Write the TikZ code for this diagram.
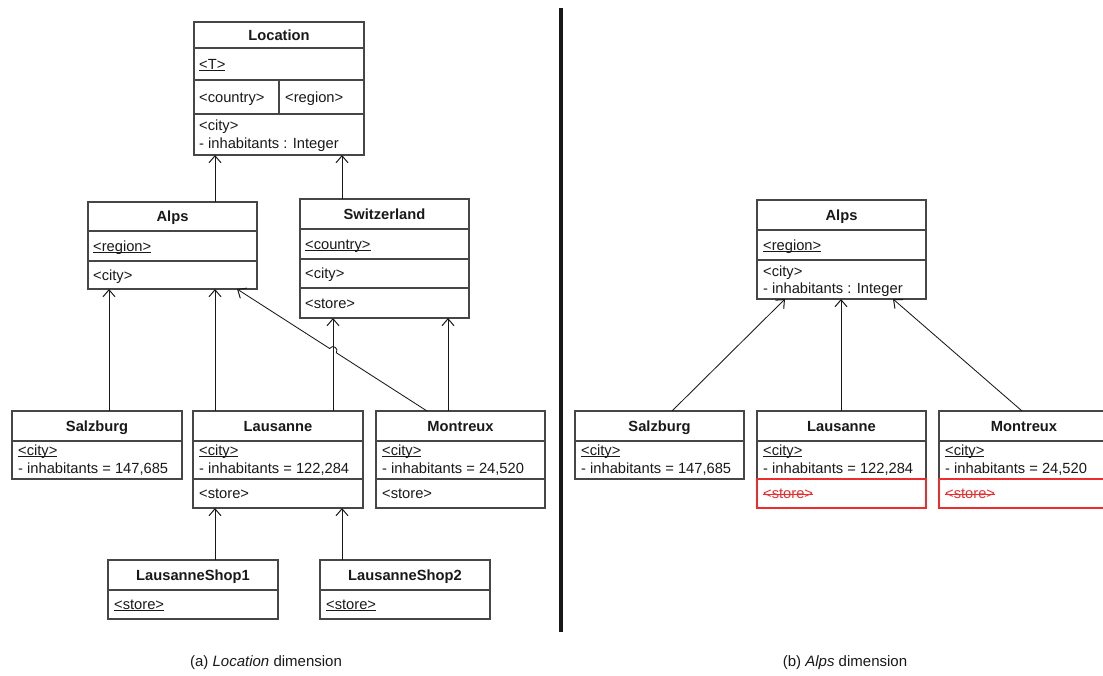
\documentclass[tikz,border=0pt]{standalone}
\usepackage{fontspec}
\setmainfont{Liberation Sans}
\usetikzlibrary{arrows.meta,calc}

\definecolor{boxgray}{RGB}{70,70,70}
\definecolor{ink}{RGB}{25,25,25}
\definecolor{strike}{RGB}{235,45,45}

\newcommand\bxfont{\fontsize{14.7}{17}\selectfont}

% underline and strike-through drawn as plain rules
\newsavebox\markbox
\newcommand\ulx[1]{\sbox\markbox{#1}\rlap{\rule[-1.8pt]{\wd\markbox}{0.8pt}}\usebox\markbox}
\newcommand\sox[1]{\sbox\markbox{#1}\rlap{\rule[3.6pt]{\wd\markbox}{0.9pt}}\usebox\markbox}

\tikzset{
  box/.style={draw=boxgray, line width=1.3pt, fill=white, inner sep=0pt, outer sep=0pt, anchor=north west},
  redbox/.style={draw=strike, line width=1.3pt, inner sep=0pt, outer sep=0pt, anchor=north west},
  divider/.style={draw=boxgray, line width=1.3pt},
  ttl/.style={anchor=base, inner sep=0pt, text=ink, font=\bxfont\bfseries},
  attr/.style={anchor=base west, inner sep=0pt, text=ink, font=\bxfont},
  dep/.style={draw=ink, line width=0.85pt, -{Straight Barb[length=7pt,width=12pt,line width=1pt]}},
  caption/.style={inner sep=0pt, text=ink, font=\fontsize{15}{18}\selectfont},
}

\begin{document}
\begin{tikzpicture}[x=1pt, y=-1pt]
\useasboundingbox (0,0) rectangle (1103,675);
\clip (0,0) rectangle (1103,675);

% ---------------- (a) Location dimension ----------------
% Location
\node[box, minimum width=170pt, minimum height=133pt] (location) at (194,22) {};
\draw[divider] (194,48) -- (364,48);
\draw[divider] (194,80) -- (364,80);
\draw[divider] (194,114) -- (364,114);
\draw[divider] (279,80) -- (279,114);
\node[ttl] (locTitle) at (279,40) {Location};
\node[attr] (locT) at (199,69) {\ulx{<T>}};
\node[attr] (locCountry) at (199,102) {<country>};
\node[attr] (locRegion) at (285,102) {<region>};
\node[attr] (locCity) at (199,130) {<city>};
\node[attr] (locInh) at (199,148) {- inhabitants : Integer};

% Alps
\node[box, minimum width=169pt, minimum height=87pt] (alps) at (88,202) {};
\draw[divider] (88,231) -- (257,231);
\draw[divider] (88,261) -- (257,261);
\node[ttl] (alpsTitle) at (172.5,221) {Alps};
\node[attr] (alpsRegion) at (93,251) {\ulx{<region>}};
\node[attr] (alpsCity) at (93,280) {<city>};

% Switzerland
\node[box, minimum width=169pt, minimum height=119pt] (switz) at (300,199) {};
\draw[divider] (300,229) -- (469,229);
\draw[divider] (300,259) -- (469,259);
\draw[divider] (300,288) -- (469,288);
\node[ttl] (switzTitle) at (384.5,219) {Switzerland};
\node[attr] (switzCountry) at (305,249) {\ulx{<country>}};
\node[attr] (switzCity) at (305,278) {<city>};
\node[attr] (switzStore) at (305,308) {<store>};

% Salzburg
\node[box, minimum width=170pt, minimum height=68pt] (salz) at (12,411) {};
\draw[divider] (12,441) -- (182,441);
\node[ttl] (salzTitle) at (97,431) {Salzburg};
\node[attr] (salzCity) at (18,455) {\ulx{<city>}};
\node[attr] (salzInh) at (18,473) {- inhabitants = 147,685};

% Lausanne
\node[box, minimum width=170pt, minimum height=97pt] (laus) at (193,411) {};
\draw[divider] (193,441) -- (363,441);
\draw[divider] (193,479) -- (363,479);
\node[ttl] (lausTitle) at (278,431) {Lausanne};
\node[attr] (lausCity) at (199,455) {\ulx{<city>}};
\node[attr] (lausInh) at (199,473) {- inhabitants = 122,284};
\node[attr] (lausStore) at (199,498) {<store>};

% Montreux
\node[box, minimum width=169pt, minimum height=97pt] (mont) at (376,411) {};
\draw[divider] (376,441) -- (545,441);
\draw[divider] (376,479) -- (545,479);
\node[ttl] (montTitle) at (460.5,431) {Montreux};
\node[attr] (montCity) at (382,455) {\ulx{<city>}};
\node[attr] (montInh) at (382,473) {- inhabitants = 24,520};
\node[attr] (montStore) at (382,498) {<store>};

% Shops
\node[box, minimum width=170pt, minimum height=59pt] (shopA) at (108,560) {};
\draw[divider] (108,590) -- (278,590);
\node[ttl] (shopATitle) at (193,580) {LausanneShop1};
\node[attr] (shopAStore) at (114,609) {\ulx{<store>}};

\node[box, minimum width=170pt, minimum height=59pt] (shopB) at (320,560) {};
\draw[divider] (320,590) -- (490,590);
\node[ttl] (shopBTitle) at (405,580) {LausanneShop2};
\node[attr] (shopBStore) at (326,609) {\ulx{<store>}};

% dependencies
\draw[dep] (215,0 |- alps.north) -- (215,0 |- location.south);
\draw[dep] (342,0 |- switz.north) -- (342,0 |- location.south);
\draw[dep] (109,0 |- salz.north) -- (109,0 |- alps.south);
\draw[dep] (215,0 |- laus.north) -- (215,0 |- alps.south);
\draw[dep] (333,0 |- laus.north) -- (333,0 |- switz.south);
\draw[dep] (448,0 |- mont.north) -- (448,0 |- switz.south);
\draw[dep] (215,0 |- shopA.north) -- (215,0 |- laus.south);
\draw[dep] (342,0 |- shopB.north) -- (342,0 |- laus.south);
% diagonal with a line hop where it crosses the vertical at x=333
\coordinate (hopA) at (336.37,352.81);
\coordinate (hopB) at (329.63,348.49);
\draw[dep] (427,0 |- mont.north) -- (hopA)
  .. controls (339.2,348.35) and (332.5,344.0) .. (hopB)
  -- (237,0 |- alps.south);

% separator
\draw[ink, line width=3.5pt] (561,8) -- (561,632);

% ---------------- (b) Alps dimension ----------------
\node[box, minimum width=169pt, minimum height=99pt] (alpsB) at (757,200) {};
\draw[divider] (757,230) -- (926,230);
\draw[divider] (757,260) -- (926,260);
\node[ttl] (alpsBTitle) at (841.5,220) {Alps};
\node[attr] (alpsBRegion) at (763,250) {\ulx{<region>}};
\node[attr] (alpsBCity) at (763,276) {<city>};
\node[attr] (alpsBInh) at (763,293) {- inhabitants : Integer};

\node[box, minimum width=169pt, minimum height=68pt] (salzB) at (575,411) {};
\draw[divider] (575,441) -- (744,441);
\node[ttl] (salzBTitle) at (659.5,431) {Salzburg};
\node[attr] (salzBCity) at (581,455) {\ulx{<city>}};
\node[attr] (salzBInh) at (581,473) {- inhabitants = 147,685};

\node[box, minimum width=169pt, minimum height=68pt] (lausB) at (757,411) {};
\draw[divider] (757,441) -- (926,441);
\node[ttl] (lausBTitle) at (841.5,431) {Lausanne};
\node[attr] (lausBCity) at (763,455) {\ulx{<city>}};
\node[attr] (lausBInh) at (763,473) {- inhabitants = 122,284};
\node[redbox, minimum width=169pt, minimum height=29pt] (lausBStoreBox) at (757,479) {};
\node[attr, text=strike] (lausBStore) at (763,498) {\sox{<store>}};

\node[box, minimum width=170pt, minimum height=68pt] (montB) at (939,411) {};
\draw[divider] (939,441) -- (1109,441);
\node[ttl] (montBTitle) at (1024,431) {Montreux};
\node[attr] (montBCity) at (945,455) {\ulx{<city>}};
\node[attr] (montBInh) at (945,473) {- inhabitants = 24,520};
\node[redbox, minimum width=170pt, minimum height=29pt] (montBStoreBox) at (939,479) {};
\node[attr, text=strike] (montBStore) at (945,498) {\sox{<store>}};

\draw[dep] (672,0 |- salzB.north) -- (785,0 |- alpsB.south);
\draw[dep] (841,0 |- lausB.north) -- (841,0 |- alpsB.south);
\draw[dep] (1022,0 |- montB.north) -- (893,0 |- alpsB.south);

% captions
\node[caption] (capA) at (266,663) {(a) \textit{Location} dimension};
\node[caption] (capB) at (845,663) {(b) \textit{Alps} dimension};
\end{tikzpicture}
\end{document}
